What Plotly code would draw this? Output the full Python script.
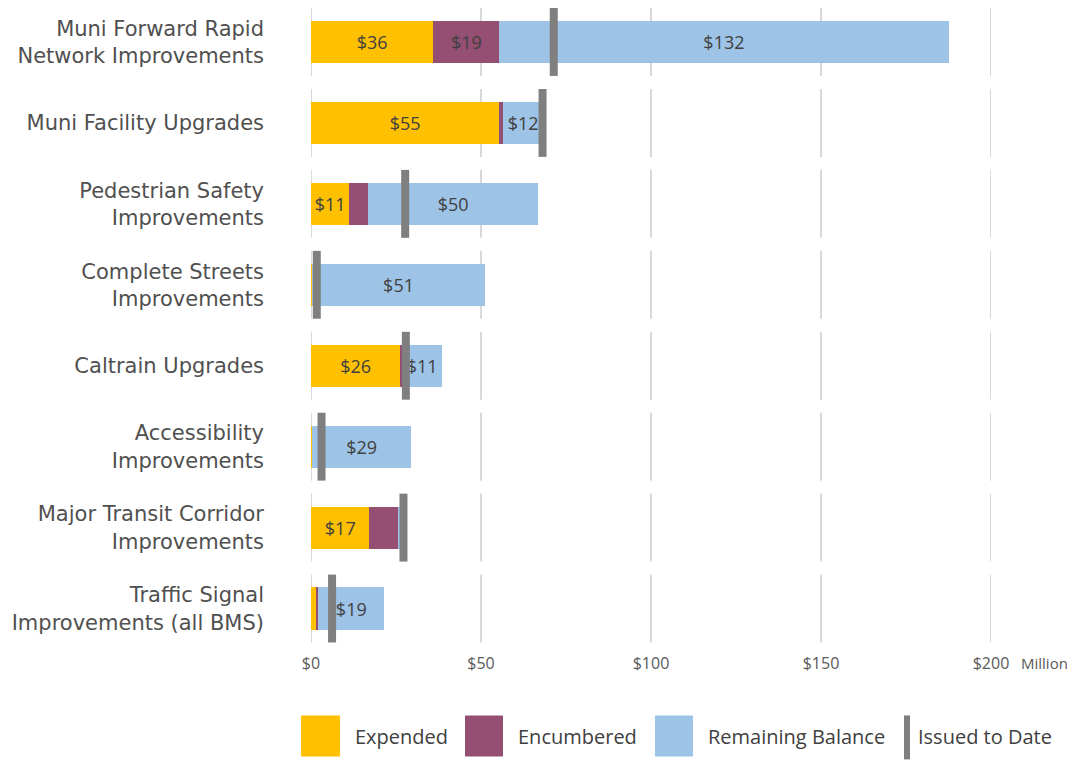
import plotly.graph_objects as go

categories = [
    "Muni Forward Rapid<br>Network Improvements",
    "Muni Facility Upgrades",
    "Pedestrian Safety<br>Improvements",
    "Complete Streets<br>Improvements",
    "Caltrain Upgrades",
    "Accessibility<br>Improvements",
    "Major Transit Corridor<br>Improvements",
    "Traffic Signal<br>Improvements (all BMS)",
]
expended = [36.0, 55.4, 11.3, 0.3, 26.3, 0.3, 17.2, 1.4]
encumbered = [19.4, 1.2, 5.5, 0.0, 0.7, 0.0, 8.6, 0.8]
remaining = [132.1, 11.6, 50.0, 50.9, 11.4, 29.2, 0.3, 19.3]
issued = [71.4, 68.1, 27.7, 1.7, 27.9, 3.1, 27.2, 6.2]
tick_vals = [0, 50, 100, 150, 200]
tick_text = ["$0", "$50", "$100", "$150", "$200"]

series_names = ["Expended", "Encumbered", "Remaining Balance"]
series_colors = ["#FFC000", "#954F72", "#9DC3E6"]
issued_name = "Issued to Date"
issued_color = "#7F7F7F"

FONT = "Open Sans"
LABEL_FONT = "DejaVu Sans"
OFF = 8  # page body margin
W, H = 1075 - OFF, 761 - OFF
ML, MR, MT = 311 - OFF, 84, 0
PLOT_BOTTOM = 649.5 - OFF
MB = H - PLOT_BOTTOM


def lab(vals):
    return [f"${v:.0f}" if v >= 9 else "" for v in vals]


fig = go.Figure()
for name, vals, col in zip(series_names, [expended, encumbered, remaining], series_colors):
    fig.add_trace(go.Bar(
        y=categories, x=vals, orientation="h", name=name,
        marker=dict(color=col, line=dict(width=0)), width=0.52,
        text=lab(vals), textposition="inside", insidetextanchor="middle",
        textangle=0, constraintext="none",
        textfont=dict(family=FONT, size=18, color="#404040"),
        showlegend=False, hoverinfo="x+name",
    ))

# line-ns marker length is 1.4 * size -> ~68 px tall
fig.add_trace(go.Scatter(
    y=categories, x=issued, mode="markers", name=issued_name, cliponaxis=False,
    marker=dict(symbol="line-ns", size=48.5, line=dict(width=8, color=issued_color), color=issued_color),
    showlegend=False,
))

shapes = []
for i in range(len(categories)):
    for t in tick_vals:
        shapes.append(dict(type="line", xref="x", yref="y", x0=t, x1=t, y0=i - 0.42, y1=i + 0.42,
                           line=dict(color="#D9D9D9", width=2), layer="below"))

# manual legend (page pixel positions converted to paper coordinates)
pw, ph = W - ML - MR, H - MT - MB


def px(x):
    return (x - OFF - ML) / pw


def py(y):
    return (H - MB - (y - OFF)) / ph


annotations = []
leg_boxes = [(301, 340, 353), (465, 503, 516), (655, 693, 706)]
for (x0, x1, tx), name, col in zip(leg_boxes, series_names, series_colors):
    shapes.append(dict(type="rect", xref="paper", yref="paper", x0=px(x0), x1=px(x1),
                       y0=py(757), y1=py(716), fillcolor=col, line=dict(width=0)))
    annotations.append(dict(xref="paper", yref="paper", x=px(tx), y=py(737), text=name,
                            showarrow=False, xanchor="left", yanchor="middle",
                            font=dict(family=FONT, size=20, color="#404040")))
shapes.append(dict(type="rect", xref="paper", yref="paper", x0=px(904), x1=px(910),
                   y0=py(760), y1=py(716), fillcolor=issued_color, line=dict(width=0)))
annotations.append(dict(xref="paper", yref="paper", x=px(916), y=py(737), text=issued_name,
                        showarrow=False, xanchor="left", yanchor="middle",
                        font=dict(family=FONT, size=20, color="#404040")))
annotations.append(dict(xref="paper", yref="paper", x=px(1019), y=py(664), text="Million",
                        showarrow=False, xanchor="left", yanchor="middle",
                        font=dict(family=FONT, size=15, color="#595959")))

fig.update_layout(
    width=W, height=H, barmode="stack",
    margin=dict(l=ML, r=MR, t=MT, b=MB),
    paper_bgcolor="white", plot_bgcolor="white",
    shapes=shapes, annotations=annotations,
    xaxis=dict(range=[0, 200], tickvals=tick_vals, ticktext=tick_text, showgrid=False,
               zeroline=False, showline=False, ticks="", ticklabelstandoff=3,
               tickfont=dict(family=FONT, size=16, color="#595959")),
    yaxis=dict(type="category", categoryorder="array", categoryarray=categories,
               range=[len(categories) - 0.5, -0.42], showgrid=False, zeroline=False,
               showline=False, ticks="", ticklabelstandoff=46,
               tickfont=dict(family=LABEL_FONT, size=21, color="#505050")),
)
fig.write_html("out.html")
